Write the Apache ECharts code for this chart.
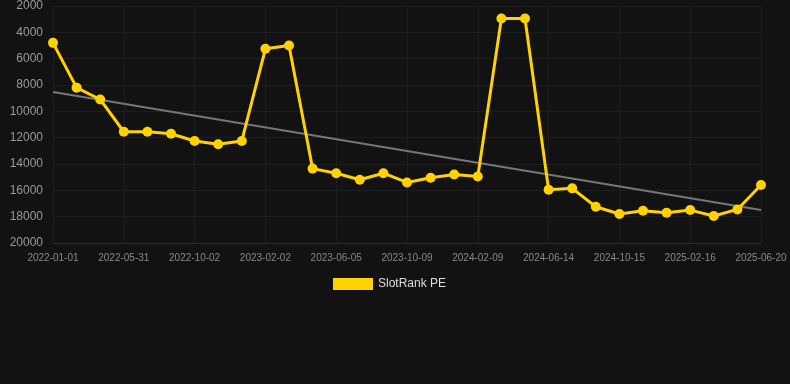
<!DOCTYPE html>
<html><head><meta charset="utf-8">
<script src="https://cdn.jsdelivr.net/npm/echarts@6/dist/echarts.min.js"></script>
<style>html,body{margin:0;padding:0;background:#121212}#c{width:790px;height:384px}</style>
</head><body><div id="c"></div>
<script>
const categories = ['2022-01-01','2022-02-18','2022-04-08','2022-05-31','2022-07-12','2022-08-20','2022-10-02','2022-11-12','2022-12-22','2023-02-02','2023-03-15','2023-04-25','2023-06-05','2023-07-15','2023-08-28','2023-10-09','2023-11-18','2023-12-29','2024-02-09','2024-03-20','2024-05-02','2024-06-14','2024-07-25','2024-09-03','2024-10-15','2024-11-24','2025-01-05','2025-02-16','2025-03-28','2025-05-09','2025-06-20'];
const slotRank = [4800,8200,9100,11550,11550,11700,12250,12500,12250,5250,5000,14350,14700,15200,14700,15400,15050,14800,14950,2950,2950,15950,15850,17250,17800,17550,17700,17500,17950,17450,15600];
const trendValues = [8540, 17500];
const yTicks = {min: 2000, max: 20000, step: 2000};

const chart = echarts.init(document.getElementById('c'));
chart.setOption({
  backgroundColor: '#121212',
  animation: false,
  grid: {left: 53, right: 29, top: 6, bottom: 141},
  legend: {
    top: 273, left: 328,
    itemWidth: 40, itemHeight: 12, itemGap: 10,
    textStyle: {color: '#dddddd', fontSize: 12, fontFamily: 'Liberation Sans, Arial, sans-serif'},
    icon: 'rect',
    data: ['SlotRank PE']
  },
  xAxis: {
    type: 'category',
    data: categories,
    boundaryGap: false,
    axisLine: {lineStyle: {color: '#2c2c2c'}},
    axisTick: {show: false},
    axisLabel: {interval: 2, color: '#888888', fontSize: 10, margin: 10, fontFamily: 'Liberation Sans, Arial, sans-serif'},
    splitLine: {show: true, interval: 2, lineStyle: {color: '#1e1e1e'}}
  },
  yAxis: {
    type: 'value',
    inverse: true,
    min: yTicks.min, max: yTicks.max, interval: yTicks.step,
    axisLine: {show: false},
    axisTick: {show: false},
    axisLabel: {color: '#999999', fontSize: 12, margin: 10, fontFamily: 'Liberation Sans, Arial, sans-serif', formatter: v => String(v)},
    splitLine: {lineStyle: {color: '#1e1e1e'}}
  },
  series: [{
    name: 'SlotRank PE',
    type: 'line',
    data: slotRank,
    color: '#FFD200',
    symbol: 'circle',
    symbolSize: 10,
    lineStyle: {width: 3, color: '#FFD200'},
    itemStyle: {color: '#FFD200'},
    z: 3,
    markLine: {
      silent: true,
      symbol: ['none', 'none'],
      label: {show: false},
      lineStyle: {color: '#777777', width: 2, type: 'solid'},
      data: [[{coord: [categories[0], trendValues[0]]}, {coord: [categories[categories.length - 1], trendValues[1]]}]],
      z: 1
    }
  }]
});
</script></body></html>
